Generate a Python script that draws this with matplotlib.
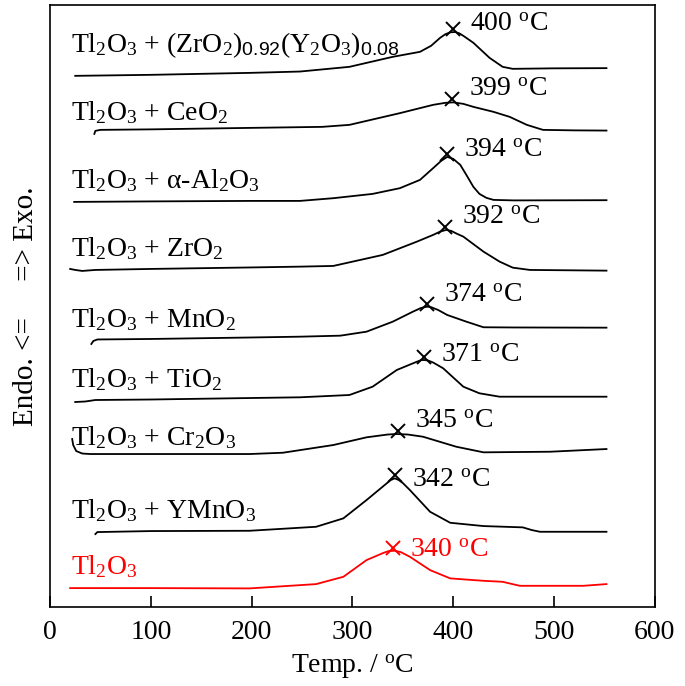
import matplotlib
matplotlib.use("Agg")
import matplotlib.pyplot as plt
import numpy as np

plt.rcParams['font.family'] = ['Liberation Serif', 'DejaVu Serif']
plt.rcParams['mathtext.fontset'] = 'custom'
plt.rcParams['mathtext.rm'] = 'Liberation Serif'
plt.rcParams['mathtext.it'] = 'Liberation Serif:italic'
plt.rcParams['mathtext.sf'] = 'Liberation Sans'

# Sample names (top to bottom)
labels = [
    r'Tl$_2$O$_3$ + (ZrO$_2$)$_{\mathsf{0.92}}$(Y$_2$O$_3$)$_{\mathsf{0.08}}$',
    r'Tl$_2$O$_3$ + CeO$_2$',
    r'Tl$_2$O$_3$ + α-Al$_2$O$_3$',
    r'Tl$_2$O$_3$ + ZrO$_2$',
    r'Tl$_2$O$_3$ + MnO$_2$',
    r'Tl$_2$O$_3$ + TiO$_2$',
    r'Tl$_2$O$_3$ + Cr$_2$O$_3$',
    r'Tl$_2$O$_3$ + YMnO$_3$',
    r'Tl$_2$O$_3$',
]
peak_temps = [400, 399, 394, 392, 374, 371, 345, 342, 340]
colors = ['black'] * 8 + ['red']

# DTA traces (temperature in degC, signal in arbitrary units incl. vertical offset)
T_zry = [25, 100, 200, 248, 297, 340, 367, 378, 387, 392, 397, 402, 406, 410, 420, 436, 449, 459, 500, 552]
S_zry = [531, 532, 534, 535.3, 540, 550, 555, 561, 569, 572.5, 574.5, 574.8, 573.5, 571, 564, 549, 540, 538, 538.5, 538.7]

T_ceo = [44, 45, 50, 100, 200, 270, 297, 347, 380, 392, 400, 410, 420, 440, 456, 473, 489, 520, 552]
S_ceo = [473, 476, 477, 477.5, 479, 480, 482, 493.7, 502, 504, 504.5, 503, 500, 495, 490, 482, 477, 476.5, 476.3]

T_al = [24, 100, 200, 248, 281, 320, 347, 367, 380, 388, 394, 400, 407, 413, 420, 426, 433, 440, 460, 552]
S_al = [405, 405.5, 406, 406, 408.7, 413, 418.7, 427, 438.7, 446, 450, 448, 442, 432, 420, 413, 409, 407, 406.5, 406.7]

T_zr = [20, 25, 32, 45, 100, 200, 248, 281, 330, 364, 380, 387, 393, 398, 404, 410, 430, 446, 459, 476, 552]
S_zr = [338, 337, 336, 337, 338, 339.5, 340.3, 341, 352, 365.3, 372, 375.3, 377, 376, 373, 370.3, 355.3, 345.3, 339.3, 337, 336.3]

T_mn = [41, 43, 47, 100, 200, 248, 288, 314, 340, 360, 368, 374, 378, 385, 394, 413, 430, 460, 552]
S_mn = [263, 266, 267.5, 268, 269.5, 270.3, 271.3, 275.3, 285.3, 295.3, 299, 300.3, 299.8, 297, 292, 285.3, 279.7, 279.5, 279.3]

T_ti = [25, 35, 45, 100, 200, 248, 297, 320, 344, 364, 368, 371, 375, 380, 390, 410, 426, 446, 500, 552]
S_ti = [205, 205.5, 207, 207.5, 209, 209.7, 212, 220.3, 237, 245.3, 246.8, 247, 246.5, 244.5, 238.7, 220.3, 213.7, 210.3, 210.3, 210.3]

T_cr = [22, 23, 26, 32, 40, 100, 198, 231, 281, 314, 335, 344, 355, 370, 403, 430, 496, 552]
S_cr = [168, 162, 156, 153.5, 153, 153, 153, 154.3, 162, 169.7, 172.5, 173, 172.5, 170.3, 160.3, 154.7, 155.3, 158]

T_ym = [45, 47, 100, 198, 264, 291, 314, 334, 338, 342, 346, 350, 357, 377, 397, 430, 469, 478, 486, 552]
S_ym = [73, 75, 76, 76.3, 80.3, 88.7, 107, 123.7, 127, 128.7, 127, 124, 117, 95.3, 84.3, 81, 79.7, 77, 75.3, 75.3]

T_tl = [20, 100, 198, 264, 291, 314, 331, 336, 342, 348, 357, 377, 397, 430, 449, 466, 529, 552]
S_tl = [19, 19, 18.7, 23, 30.3, 47, 54.3, 56, 56.3, 55, 50.3, 37, 28.7, 26.3, 25.3, 21.3, 21.3, 23]

temps = [T_zry, T_ceo, T_al, T_zr, T_mn, T_ti, T_cr, T_ym, T_tl]
signals = [S_zry, S_ceo, S_al, S_zr, S_mn, S_ti, S_cr, S_ym, S_tl]

# Left-side label heights (same units as signals)
label_y = [562, 494, 426, 358, 287, 227, 169, 96, 40]
# vertical lift of the peak-temperature annotation above the marker
peak_lift = [5, 10, 3, 10, 8, 1, 10, -5, -3]

xticks = [0, 100, 200, 300, 400, 500, 600]

fig = plt.figure(figsize=(6.85, 6.86), dpi=100)
ax = fig.add_axes([0.073, 0.115, 0.883, 0.878])

for T, S, pk, c, lab, ly, lift in zip(temps, signals, peak_temps, colors, labels, label_y, peak_lift):
    T = np.asarray(T, float)
    S = np.asarray(S, float)
    ax.plot(T, S, color=c, lw=1.3)
    py = np.interp(pk, T, S) + 3
    ax.plot([pk], [py], marker='x', color=c, ms=10, mew=1.4)
    ax.text(pk + 17, py + lift, r'%d $^{\mathrm{o}}$C' % pk, color=c, fontsize=20,
            ha='left', va='center')
    ax.text(21, ly, lab, color=c, fontsize=20, ha='left', va='center')

ax.set_xlim(0, 600)
ax.set_ylim(0, 602)
ax.set_xticks(xticks)
ax.set_yticks([])
ax.tick_params(axis='x', direction='in', length=8, width=1.2, labelsize=20, pad=9)
for sp in ax.spines.values():
    sp.set_linewidth(1.2)
ax.set_xlabel(r'Temp. / $^{\mathrm{o}}$C', fontsize=20, labelpad=6)
ax.set_ylabel('Endo. <=     => Exo.', fontsize=21, labelpad=8)

fig.savefig('out.png', dpi=100)
